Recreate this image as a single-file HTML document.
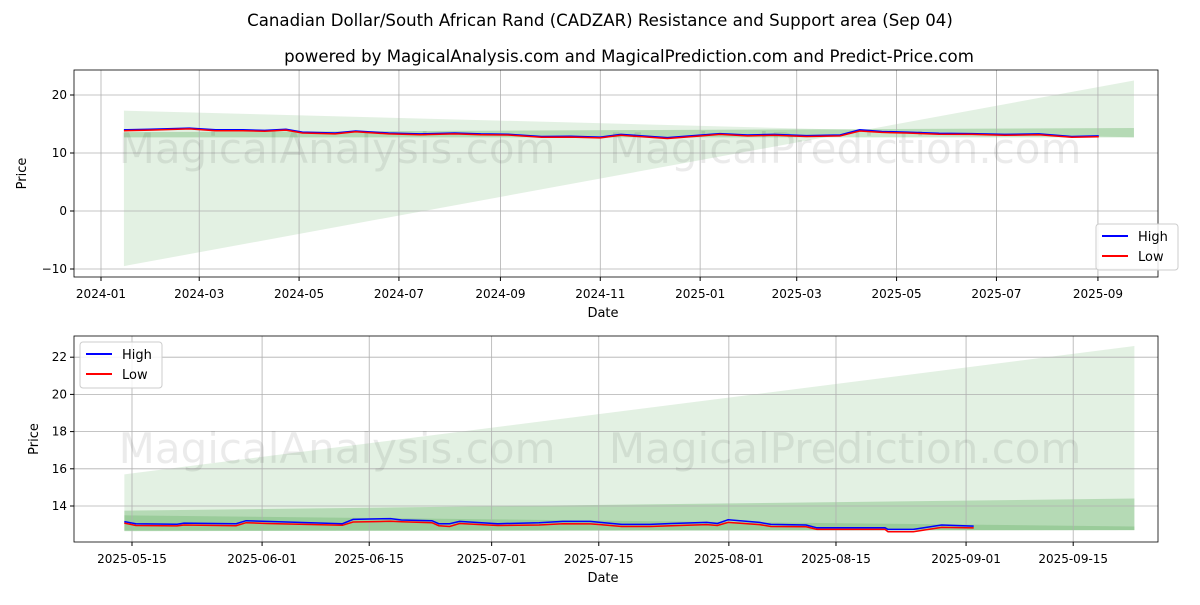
<!DOCTYPE html>
<html><head><meta charset="utf-8"><style>
body{margin:0;background:#fff;font-family:"Liberation Sans","DejaVu Sans",sans-serif}
svg text{font-family:"DejaVu Sans","Liberation Sans",sans-serif}
</style></head><body>
<svg id="c" width="1200" height="600" xmlns="http://www.w3.org/2000/svg">
<rect width="1200" height="600" fill="#fff"/>
<text x="600" y="26" font-size="16.6" text-anchor="middle">Canadian Dollar/South African Rand (CADZAR) Resistance and Support area (Sep 04)</text>
<text x="629" y="62" font-size="16.6" text-anchor="middle">powered by MagicalAnalysis.com and MagicalPrediction.com and Predict-Price.com</text>
<g id="top"></g>
<g id="bot"></g>
</svg>
<script>
// top chart data (days since 2024-01-01)
const topDays=[14,30,54,70,86.6,100,113,123,143,155.5,175.7,195,216,232,248.6,269,287,305,317.6,346,362,378,395,411,431,451.5,463.5,477,492,512,532,552,573,593,609.5];
const topHigh=[14.0,14.1,14.3,14.0,14.0,13.9,14.1,13.6,13.45,13.8,13.45,13.3,13.45,13.3,13.25,12.85,12.9,12.75,13.2,12.65,13.0,13.35,13.1,13.2,13.0,13.1,14.0,13.7,13.6,13.4,13.35,13.2,13.3,12.85,12.95];
const topLow=[13.85,13.95,14.15,13.85,13.85,13.75,13.95,13.45,13.3,13.65,13.3,13.15,13.3,13.15,13.1,12.7,12.75,12.6,13.05,12.5,12.85,13.2,12.95,13.05,12.85,12.95,13.8,13.55,13.45,13.25,13.2,13.05,13.15,12.7,12.8];
const topTickLabels=["2024-01","2024-03","2024-05","2024-07","2024-09","2024-11","2025-01","2025-03","2025-05","2025-07","2025-09"];
const topTickDays=[0,60,121,182,244,305,366,425,486,547,609];
const topYTicks=[-10,0,10,20];
// bottom chart data (days since 2025-05-15)
const botDays=[-1,0.5,5.9,6.8,13.6,14.9,17.6,27.5,28.9,33.8,35.2,39.2,40.1,41.5,42.8,47.8,53.2,56.3,59.9,61.2,64,67.7,70.5,75.1,76.5,77.9,82,83.5,88.1,89.5,98.4,98.8,102.1,105.8,110];
const botHigh=[13.16,13.05,13.02,13.08,13.05,13.21,13.17,13.05,13.28,13.32,13.25,13.21,13.05,13.05,13.17,13.05,13.1,13.17,13.17,13.12,13.01,13.01,13.06,13.12,13.06,13.26,13.12,13.01,12.98,12.83,12.83,12.74,12.74,12.98,12.92];
const botLow=[13.08,12.95,12.93,12.98,12.94,13.1,13.06,12.96,13.14,13.18,13.15,13.1,12.94,12.9,13.06,12.95,12.98,13.05,13.04,13.0,12.9,12.9,12.94,13.0,12.95,13.12,13.0,12.9,12.88,12.74,12.74,12.62,12.62,12.85,12.82];
const botTickLabels=["2025-05-15","2025-06-01","2025-06-15","2025-07-01","2025-07-15","2025-08-01","2025-08-15","2025-09-01","2025-09-15"];
const botTickDays=[0,17,31,47,61,78,92,109,123];
const botYTicks=[14,16,18,20,22];

const NS="http://www.w3.org/2000/svg";
function el(p,t,a){const e=document.createElementNS(NS,t);for(const k in a)e.setAttribute(k,a[k]);p.appendChild(e);return e;}

function draw(g,cfg){
  const {L,R,T,B,xs,ys}=cfg;
  cfg.bands.forEach(b=>{
    const pts=[[b.d0,b.u0],[b.d1,b.u1],[b.d1,b.l1],[b.d0,b.l0]].map(p=>xs(p[0])+","+ys(p[1])).join(" ");
    const p=el(g,"polygon",{points:pts,fill:"green","fill-opacity":b.a});
    
    
  });
  cfg.xd.forEach((d,i)=>{
    const x=xs(d);
    const l=el(g,"line",{x1:x,x2:x,y1:T,y2:B,stroke:"#b0b0b0","stroke-width":0.8});
    
    
    el(g,"line",{x1:x,x2:x,y1:B,y2:B+4,stroke:"#000"});
    const t=el(g,"text",{x:x,y:B+21,"font-size":12,"text-anchor":"middle"});t.textContent=cfg.xl[i];
    
    
  });
  cfg.yt.forEach(v=>{
    const y=ys(v);
    const l=el(g,"line",{x1:L,x2:R,y1:y,y2:y,stroke:"#b0b0b0","stroke-width":0.8});
    
    
    el(g,"line",{x1:L-4,x2:L,y1:y,y2:y,stroke:"#000"});
    const t=el(g,"text",{x:L-7,y:y+4,"font-size":12,"text-anchor":"end"});t.textContent=v<0?"\u2212"+(-v):v;
    
    
  });
  const w=el(g,"text",{x:(L+R)/2-16,y:cfg.wy,"font-size":42,"text-anchor":"middle",fill:"#000","fill-opacity":0.08});
  w.textContent="MagicalAnalysis.com\u00a0\u00a0\u00a0\u00a0MagicalPrediction.com";
  
  
  [[cfg.hi,"#0000ff","high-line"],[cfg.lo,"#ff0000","low-line"]].forEach(s=>{
    const d=cfg.days.map((x,i)=>(i?"L":"M")+xs(x).toFixed(1)+","+ys(s[0][i]).toFixed(1)).join(" ");
    const p=el(g,"path",{d:d,fill:"none",stroke:s[1],"stroke-width":1.5});
    
    
  });
  const fr=el(g,"rect",{x:L,y:T,width:R-L,height:B-T,fill:"none",stroke:"#000","stroke-width":0.8});
  
  
  const xt=el(g,"text",{x:(L+R)/2-13,y:B+40,"font-size":13,"text-anchor":"middle"});xt.textContent="Date";
  
  
  const yt=el(g,"text",{x:0,y:0,"font-size":13,"text-anchor":"middle",transform:`translate(${cfg.ytx},${(T+B)/2}) rotate(-90)`});yt.textContent="Price";
  
  
  const lg=el(g,"g",{});
  
  
  el(lg,"rect",{x:cfg.lx,y:cfg.ly,width:82,height:46,rx:3,fill:"#fff","fill-opacity":0.85,stroke:"#ccc"});
  [["High","#0000ff"],["Low","#ff0000"]].forEach((e,i)=>{
    const y=cfg.ly+12+i*20;
    const ln=el(lg,"line",{x1:cfg.lx+6,x2:cfg.lx+32,y1:y,y2:y,stroke:e[1],"stroke-width":2});
    
    
    const t=el(lg,"text",{x:cfg.lx+42,y:y+5,"font-size":13});t.textContent=e[0];
    
    
  });
}

draw(document.getElementById("top"),{
  L:74,R:1158,T:70,B:277,
  xs:d=>101+d*1.637, ys:v=>211-v*5.8,
  bands:[{d0:14,d1:631,u0:17.3,u1:12.7,l0:-9.5,l1:22.5,a:0.11},{d0:14,d1:631,u0:13.6,u1:14.3,l0:12.7,l1:12.7,a:0.2}],
  xd:topTickDays,xl:topTickLabels,yt:topYTicks,
  days:topDays,hi:topHigh,lo:topLow,wy:163,ytx:26,lx:1096,ly:224
});
draw(document.getElementById("bot"),{
  L:74,R:1158,T:336,B:542,
  xs:d=>132+d*7.652, ys:v=>506-(v-14)*18.6,
  bands:[{d0:-1,d1:131,u0:15.7,u1:22.6,l0:12.7,l1:12.7,a:0.11},{d0:-1,d1:131,u0:13.75,u1:14.4,l0:12.65,l1:12.7,a:0.2},{d0:-1,d1:131,u0:13.5,u1:12.9,l0:12.65,l1:12.7,a:0.15}],
  xd:botTickDays,xl:botTickLabels,yt:botYTicks,
  days:botDays,hi:botHigh,lo:botLow,wy:463,ytx:38,lx:80,ly:342
});
</script>
</body></html>
